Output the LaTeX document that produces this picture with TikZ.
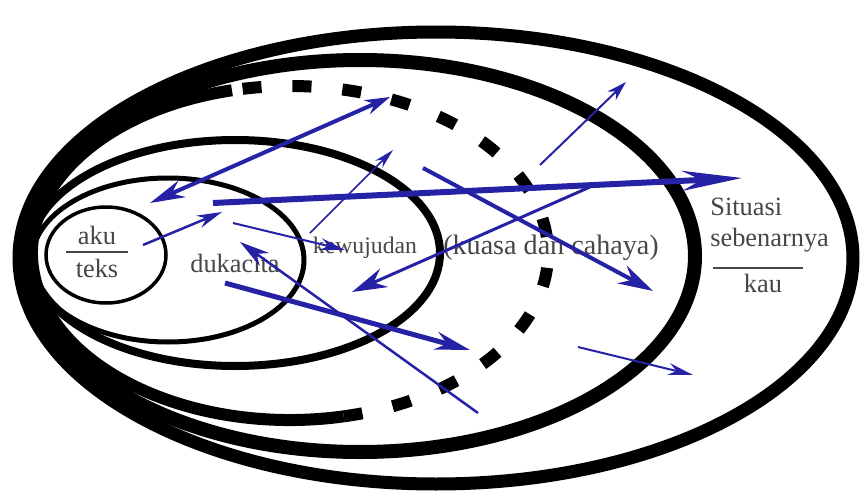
\documentclass[tikz,border=0pt]{standalone}
\usepackage{fontspec}
\setmainfont{Liberation Serif}
\usetikzlibrary{arrows.meta}
\definecolor{biru}{RGB}{38,34,165}
\definecolor{tinta}{RGB}{70,70,70}

\begin{document}
\begin{tikzpicture}[x=0.2mm,y=0.2mm,
  panah/.style={biru,line width=#1},
  teks/.style={tinta,inner sep=0pt,font=\fontsize{15}{18}\selectfont}]
  \useasboundingbox[fill=white](0,0)rectangle(865,495);
  % lingkaran luar
  \draw[line width=2.6mm](436,237)ellipse[x radius=417,y radius=226];
  \draw[line width=2.8mm](360,239)ellipse[x radius=335,y radius=196];
  % lingkaran putus-putus
  \draw[line width=2.4mm](290,242)++(103:258 and 167)arc[start angle=103,end angle=282,x radius=258,y radius=167];
  \draw[line width=2.4mm,dash pattern=on 3.8mm off 6.2mm](290,242)++(282:258 and 167)arc[start angle=282,end angle=463,x radius=258,y radius=167];
  % lingkaran dalam
  \draw[line width=1.6mm](235,242)ellipse[x radius=205,y radius=113];
  \draw[line width=1mm](168,235)ellipse[x radius=136,y radius=82];
  \draw[line width=0.7mm](106,240)ellipse[x radius=60,y radius=48];
  % teks
  \node[teks](aku) at (97,260){aku};
  \draw[tinta,line width=0.3mm](66,243)--(128,243);
  \node[teks](teks) at (97,227){teks};
  \node[teks](duka) at (235,232){dukacita};
  \node[teks,font=\fontsize{13.5}{16}\selectfont](wujud) at (365,247){kewujudan};
  \node[teks,font=\fontsize{16}{19}\selectfont](kuasa) at (551,247){(kuasa dan cahaya)};
  \node[teks,anchor=west](situasi) at (710,288){Situasi};
  \node[teks,anchor=west](benar) at (710,255){sebenarnya};
  \draw[tinta,line width=0.3mm](713,227)--(803,227);
  \node[teks](kau) at (763,212){kau};
  % panah
  \draw[panah=0.8mm,{Stealth[length=7mm,width=3.6mm]}-{Stealth[length=5mm,width=3mm]}](150,292)--(390,398);
  \draw[panah=1.2mm,-{Stealth[length=12mm,width=4mm]}](213,292)--(742,317);
  \draw[panah=0.5mm,-{Stealth[length=5mm,width=2.6mm]}](143,250)--(222,283);
  \draw[panah=0.3mm,-{Stealth[length=4mm,width=2mm]}](310,262)--(393,345);
  \draw[panah=0.4mm,-{Stealth[length=5mm,width=2.4mm]}](233,272)--(345,245);
  \draw[panah=0.6mm,-{Stealth[length=7mm,width=4mm]}](590,308)--(352,203);
  \draw[panah=0.8mm,-{Stealth[length=7mm,width=4mm]}](423,327)--(653,204);
  \draw[panah=0.4mm,-{Stealth[length=4mm,width=2.4mm]}](540,330)--(626,413);
  \draw[panah=1mm,-{Stealth[length=7mm,width=3.6mm]}](225,212)--(470,145);
  \draw[panah=0.5mm,-{Stealth[length=6mm,width=3.2mm]}](478,82)--(240,253);
  \draw[panah=0.4mm,-{Stealth[length=5mm,width=2.4mm]}](578,148)--(693,120);
\end{tikzpicture}
\end{document}
